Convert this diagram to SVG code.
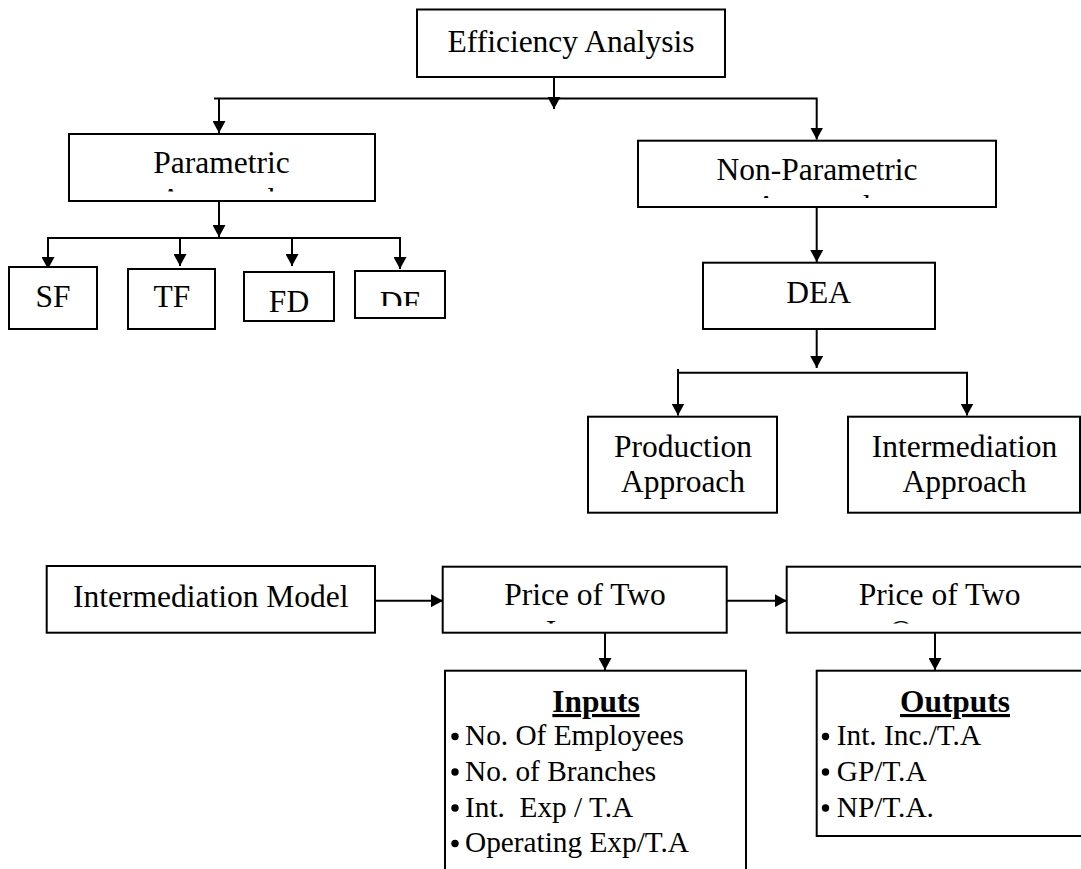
<svg xmlns="http://www.w3.org/2000/svg" width="1081" height="869" viewBox="0 0 1081 869">
<style>
.box{fill:#fff;stroke:#000;stroke-width:2}
.lbl{font-family:"Liberation Serif","Times New Roman",serif;font-size:31.5px;fill:#000;text-anchor:middle}
.item{font-family:"Liberation Serif","Times New Roman",serif;font-size:29.3px;fill:#000;white-space:pre}
.head{font-family:"Liberation Serif","Times New Roman",serif;font-size:31.4px;font-weight:bold;fill:#000;text-anchor:middle;text-decoration:underline}
.con{fill:none;stroke:#000;stroke-width:2}
.dot{fill:#000}
</style>
<defs>
<marker id="ah" viewBox="0 0 12 13" refX="12" refY="6.5" markerWidth="12" markerHeight="13" markerUnits="userSpaceOnUse" orient="auto">
<path d="M0,0 L12,6.5 L0,13 z" fill="#000"/>
</marker>
<clipPath id="cpPar"><rect x="70" y="135" width="304" height="56.5"/></clipPath>
<clipPath id="cpNon"><rect x="639" y="142" width="356" height="56"/></clipPath>
<clipPath id="cpDF"><rect x="356" y="272" width="88" height="34"/></clipPath>
<clipPath id="cpP1"><rect x="444" y="568" width="282" height="55.5"/></clipPath>
<clipPath id="cpP2"><rect x="788" y="568" width="300" height="55.5"/></clipPath>
</defs>
<rect width="1081" height="869" fill="#fff"/>

<g id="connectors">
<path class="con" d="M554 77 V109" marker-end="url(#ah)"/>
<path class="con" d="M214 98.5 H816.7 V139.5" marker-end="url(#ah)"/>
<path class="con" d="M219 98.5 V133" marker-end="url(#ah)"/>
<path class="con" d="M219 201 V237" marker-end="url(#ah)"/>
<path class="con" d="M47 238 H400 V269" marker-end="url(#ah)"/>
<path class="con" d="M48 238 V269" marker-end="url(#ah)"/>
<path class="con" d="M180 238 V266" marker-end="url(#ah)"/>
<path class="con" d="M292 238 V266" marker-end="url(#ah)"/>
<path class="con" d="M816.7 207 V262" marker-end="url(#ah)"/>
<path class="con" d="M816.7 329 V368" marker-end="url(#ah)"/>
<path class="con" d="M678 369 V415.5" marker-end="url(#ah)"/>
<path class="con" d="M678 372.7 H967 V415.5" marker-end="url(#ah)"/>
<path class="con" d="M375 600.7 H443" marker-end="url(#ah)"/>
<path class="con" d="M726.7 600.7 H786.7" marker-end="url(#ah)"/>
<path class="con" d="M605 632.7 V670" marker-end="url(#ah)"/>
<path class="con" d="M935 632.7 V670" marker-end="url(#ah)"/>
</g>

<g id="efficiency">
<rect class="box" x="417" y="9.5" width="308" height="67.5"/>
<text class="lbl" x="571" y="52">Efficiency Analysis</text>
</g>

<g id="parametric">
<rect class="box" x="69" y="134" width="306" height="67"/>
<text class="lbl" x="221.5" y="173">Parametric</text>
<text class="lbl" x="221.5" y="210" clip-path="url(#cpPar)">Approach</text>
</g>

<g id="nonparametric">
<rect class="box" x="638" y="140.7" width="358" height="66.3"/>
<text class="lbl" x="817" y="180">Non-Parametric</text>
<text class="lbl" x="817" y="217" clip-path="url(#cpNon)">Approach</text>
</g>

<g id="sf">
<rect class="box" x="9" y="267" width="88" height="62"/>
<text class="lbl" x="53" y="306.7">SF</text>
</g>
<g id="tf">
<rect class="box" x="128" y="269" width="87" height="60"/>
<text class="lbl" x="172" y="307">TF</text>
</g>
<g id="fd">
<rect class="box" x="244" y="272" width="90" height="49"/>
<text class="lbl" x="289" y="311.7">FD</text>
</g>
<g id="df">
<rect class="box" x="355" y="271" width="90" height="47"/>
<text class="lbl" x="400" y="312.5" clip-path="url(#cpDF)">DF</text>
</g>

<g id="dea">
<rect class="box" x="703" y="262.7" width="232" height="66.3"/>
<text class="lbl" x="818.7" y="302.7">DEA</text>
</g>

<g id="production">
<rect class="box" x="588" y="416.7" width="189" height="96"/>
<text class="lbl" x="683" y="456.7">Production</text>
<text class="lbl" x="683" y="491.7">Approach</text>
</g>

<g id="intermediation-approach">
<rect class="box" x="848" y="416.7" width="232" height="96"/>
<text class="lbl" x="964.5" y="456.7">Intermediation</text>
<text class="lbl" x="964.5" y="491.7">Approach</text>
</g>

<g id="intermediation-model">
<rect class="box" x="46.7" y="566" width="328.3" height="66.7"/>
<text class="lbl" x="210.8" y="606.7">Intermediation Model</text>
</g>

<g id="price-inputs">
<rect class="box" x="442.7" y="566.7" width="284" height="66"/>
<text class="lbl" x="585" y="605">Price of Two</text>
<text class="lbl" x="585" y="642" clip-path="url(#cpP1)">Inputs</text>
</g>

<g id="price-outputs">
<rect class="box" x="786.7" y="566.7" width="306" height="66"/>
<text class="lbl" x="939.7" y="605">Price of Two</text>
<text class="lbl" x="939.7" y="642" clip-path="url(#cpP2)">Outputs</text>
</g>

<g id="inputs">
<rect class="box" x="445" y="670.7" width="301" height="210"/>
<text class="head" x="596" y="712">Inputs</text>
<circle class="dot" cx="455" cy="736.5" r="3.7"/>
<text class="item" x="465" y="745">No. Of Employees</text>
<circle class="dot" cx="455" cy="772" r="3.7"/>
<text class="item" x="465" y="780.5">No. of Branches</text>
<circle class="dot" cx="455" cy="808" r="3.7"/>
<text class="item" x="465" y="816.5">Int.  Exp / T.A</text>
<circle class="dot" cx="455" cy="843.5" r="3.7"/>
<text class="item" x="465" y="852">Operating Exp/T.A</text>
</g>

<g id="outputs">
<rect class="box" x="816.7" y="670.7" width="280" height="165.3"/>
<text class="head" x="955" y="712">Outputs</text>
<circle class="dot" cx="825.5" cy="736.5" r="3.7"/>
<text class="item" x="836.8" y="745">Int. Inc./T.A</text>
<circle class="dot" cx="825.5" cy="772" r="3.7"/>
<text class="item" x="836.8" y="780.5">GP/T.A</text>
<circle class="dot" cx="825.5" cy="808" r="3.7"/>
<text class="item" x="836.8" y="816.5">NP/T.A.</text>
</g>
</svg>
